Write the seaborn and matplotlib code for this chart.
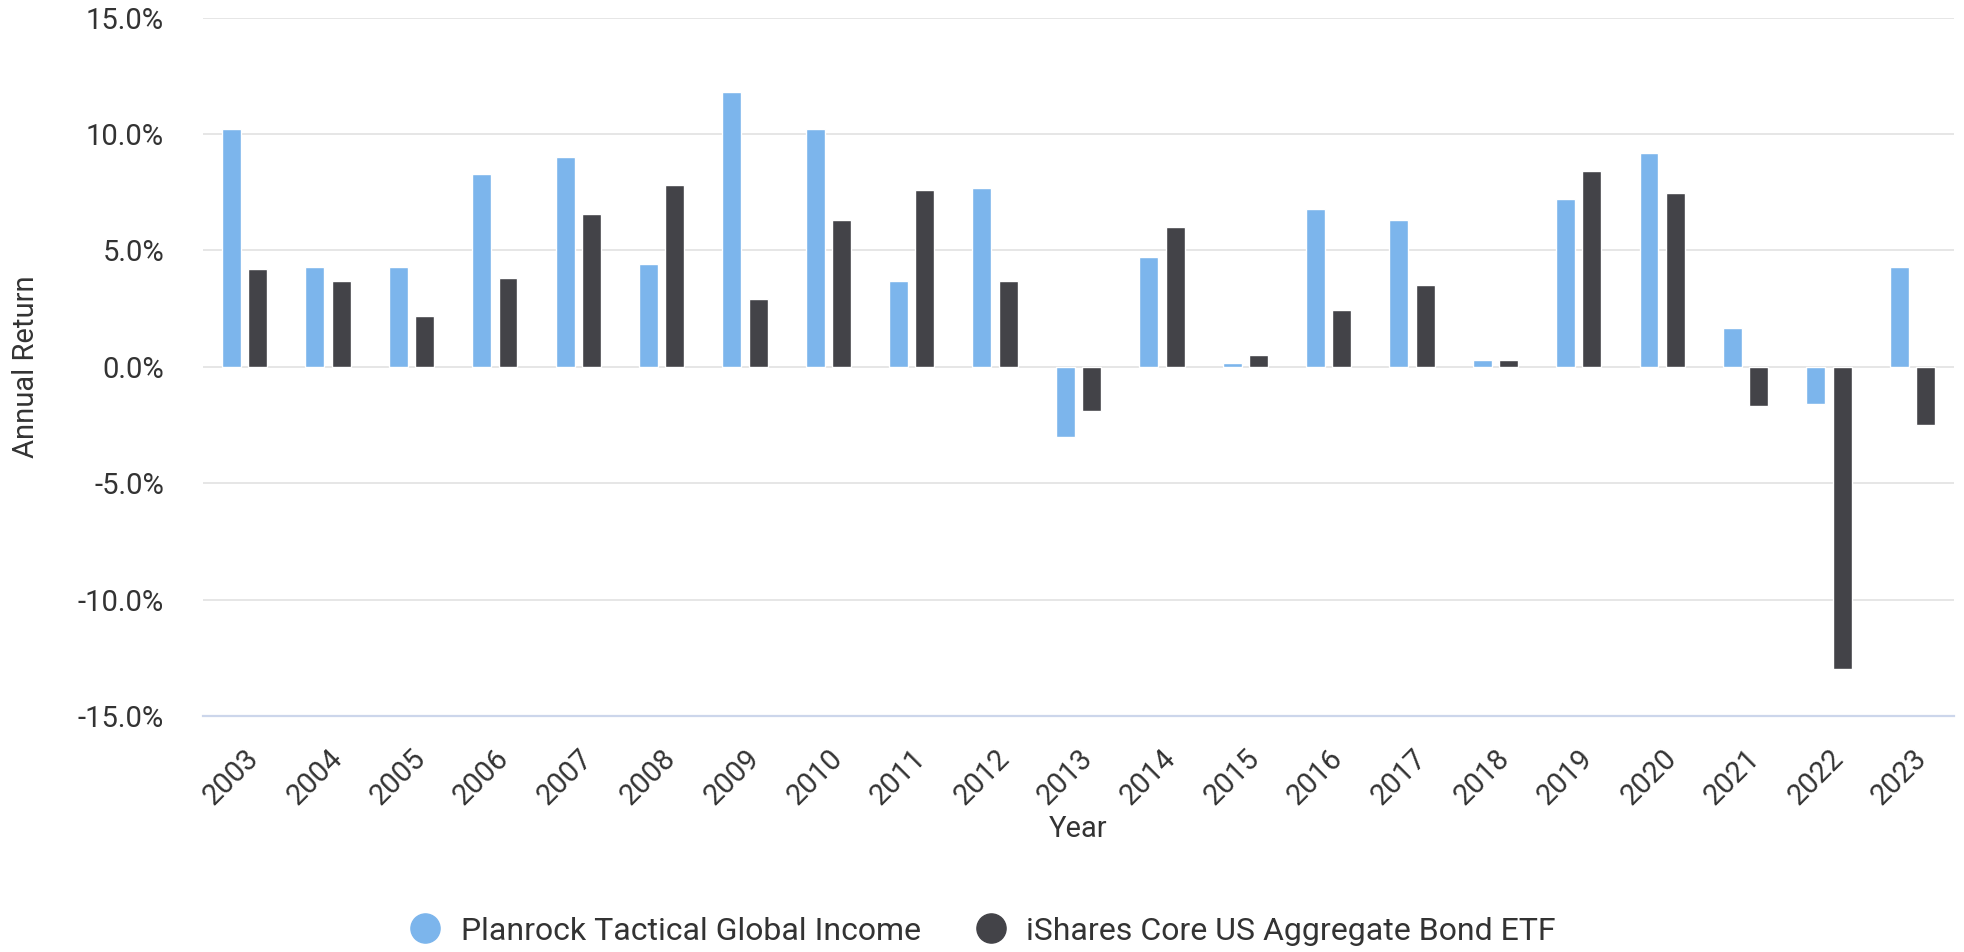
import matplotlib
matplotlib.use("Agg")
import matplotlib.pyplot as plt
import seaborn as sns
import pandas as pd
from matplotlib.lines import Line2D
from matplotlib.ticker import FuncFormatter

YEARS = [str(y) for y in range(2003, 2024)]
SERIES = ["Planrock Tactical Global Income", "iShares Core US Aggregate Bond ETF"]
PLANROCK = [10.2, 4.3, 4.3, 8.3, 9.0, 4.4, 11.8, 10.2, 3.7, 7.7, -3.0,
            4.7, 0.15, 6.8, 6.3, 0.28, 7.2, 9.2, 1.65, -1.6, 4.3]
ISHARES = [4.2, 3.7, 2.2, 3.8, 6.55, 7.8, 2.9, 6.3, 7.6, 3.7, -1.9,
           6.0, 0.5, 2.45, 3.5, 0.28, 8.4, 7.45, -1.7, -13.0, -2.5]
COLORS = ["#7cb5ec", "#434348"]
TEXT = "#333333"


def main():
    df = pd.DataFrame({
        "Year": YEARS * 2,
        "Series": [SERIES[0]] * len(YEARS) + [SERIES[1]] * len(YEARS),
        "Return": PLANROCK + ISHARES,
    })

    sns.set_theme(style="white")
    plt.rcParams["font.family"] = ["Roboto", "DejaVu Sans"]

    fig = plt.figure(figsize=(19.65, 9.52), dpi=100)
    ax = fig.add_axes([203 / 1965, 1 - 716 / 952, 1751 / 1965, (716 - 17.7) / 952])

    sns.barplot(data=df, x="Year", y="Return", hue="Series", order=YEARS,
                hue_order=SERIES, palette=COLORS, width=0.632, gap=0.28,
                edgecolor="white", linewidth=1, saturation=1, ax=ax, zorder=3)
    ax.legend_.remove()

    ax.set_ylim(-15, 15)
    ax.set_xlim(-0.5, len(YEARS) - 0.5)
    ax.set_yticks(range(-15, 16, 5))
    ax.yaxis.set_major_formatter(FuncFormatter(lambda v, _: f"{v:.1f}%"))
    ax.grid(axis="y", color="#e6e6e6", linewidth=1.4, zorder=0)
    ax.set_axisbelow(True)
    for side in ["top", "right", "left"]:
        ax.spines[side].set_visible(False)
    ax.spines["bottom"].set_color("#ccd6eb")
    ax.spines["bottom"].set_linewidth(1.6)
    ax.spines["bottom"].set_position(("data", -15))

    ax.tick_params(axis="y", length=0, pad=28, labelsize=21, labelcolor=TEXT)
    ax.tick_params(axis="x", length=0, pad=20, labelsize=21, labelcolor=TEXT)
    plt.setp(ax.get_xticklabels(), rotation=45, ha="right", rotation_mode="anchor")

    ax.set_ylabel("Annual Return", fontsize=21, color=TEXT, labelpad=27)
    ax.set_xlabel("Year", fontsize=21, color=TEXT, labelpad=4)

    # legend with round markers, centred under the plot
    handles = [Line2D([], [], marker="o", linestyle="", markersize=21,
                      markerfacecolor=c, markeredgecolor=c) for c in COLORS]
    fig.legend(handles, SERIES, loc="center", bbox_to_anchor=(0.5, 1 - 931 / 952),
               ncol=2, frameon=False, fontsize=23, labelcolor=TEXT,
               handletextpad=0.6, columnspacing=1.7, handlelength=1.0)

    fig.savefig("out.png", dpi=100)
    plt.close(fig)


if __name__ == "__main__":
    main()
